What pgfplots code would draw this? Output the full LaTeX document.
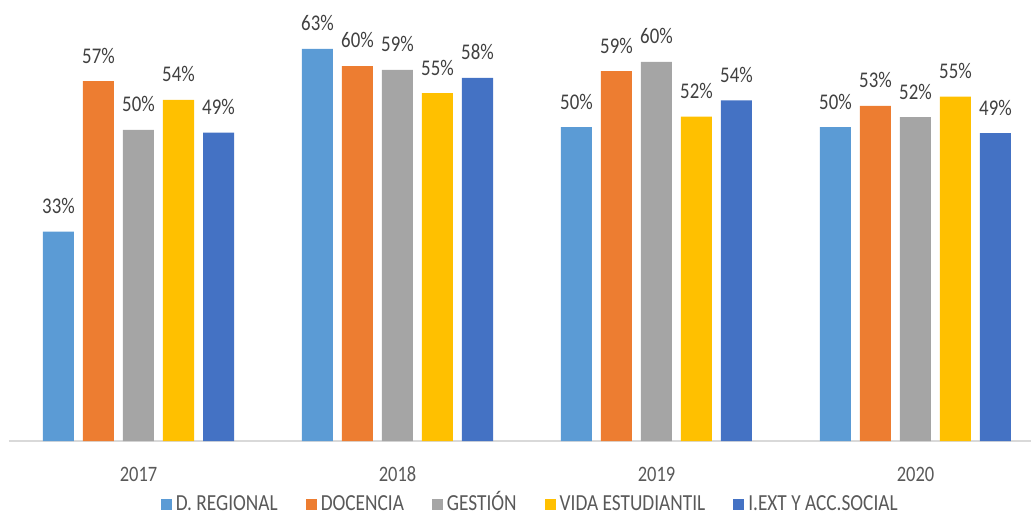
\documentclass[border=0pt]{standalone}
\usepackage{fontspec}
\setmainfont[FakeStretch=0.84]{Carlito}
\usepackage{pgfplots}
\pgfplotsset{compat=1.18}
\definecolor{c1}{HTML}{5B9BD5}
\definecolor{c2}{HTML}{ED7D31}
\definecolor{c3}{HTML}{A5A5A5}
\definecolor{c4}{HTML}{FFC000}
\definecolor{c5}{HTML}{4472C4}
\definecolor{tgray}{HTML}{595959}
\definecolor{lgray}{HTML}{404040}
\definecolor{axgray}{HTML}{D9D9D9}
\begin{document}
\begin{tikzpicture}
\begin{axis}[
  scale only axis,
  width=511pt, height=218pt,
  xmin=2016.5, xmax=2020.446,
  ymin=0, ymax=69.54,
  /pgf/number format/assume math mode=true,
  axis x line=bottom, axis y line=none,
  x axis line style={-, draw=axgray, line width=0.8pt},
  xtick={2017,2018,2019,2020},
  xticklabel={\pgfmathprintnumber[assume math mode=true,1000 sep={}]{\tick}},
  xtick style={draw=none},
  xticklabel style={anchor=center, yshift=-12.5pt, font=\fontsize{11}{13}\selectfont, text=tgray},
  ytick=\empty,
  ybar, bar width=15.5pt,
  nodes near coords={\pgfmathprintnumber[fixed,precision=0]{\pgfplotspointmeta}\%},
  every node near coord/.append style={font=\fontsize{11.2}{13}\selectfont, text=lgray, anchor=south, inner sep=0pt, yshift=8.8pt},
  legend style={at={(axis description cs:0.511,-0.145)}, anchor=center, draw=none, fill=none,
    legend columns=-1, font=\fontsize{11.5}{13}\selectfont, text=tgray,
    /tikz/every even column/.append style={column sep=12pt}},
  legend image code/.code={\fill[#1] (0pt,-2.75pt) rectangle (5.5pt,2.75pt);},
]
\addplot[fill=c1, draw=none, bar shift=-40pt] coordinates {(2017,33.41) (2018,62.55) (2019,50.05) (2020,50.05)};
\addplot[fill=c2, draw=none, bar shift=-20pt] coordinates {(2017,57.38) (2018,59.78) (2019,58.98) (2020,53.45)};
\addplot[fill=c3, draw=none, bar shift=0pt] coordinates {(2017,49.63) (2018,59.20) (2019,60.45) (2020,51.64)};
\addplot[fill=c4, draw=none, bar shift=20pt] coordinates {(2017,54.42) (2018,55.47) (2019,51.75) (2020,54.94)};
\addplot[fill=c5, draw=none, bar shift=40pt] coordinates {(2017,49.20) (2018,57.93) (2019,54.31) (2020,49.09)};
\legend{D. REGIONAL, DOCENCIA, GESTI\smash{Ó}N, VIDA ESTUDIANTIL, I.EXT Y ACC.SOCIAL}
\end{axis}
\useasboundingbox (-4.5pt,-34.5pt) rectangle (512pt,220.5pt);
\end{tikzpicture}
\end{document}
